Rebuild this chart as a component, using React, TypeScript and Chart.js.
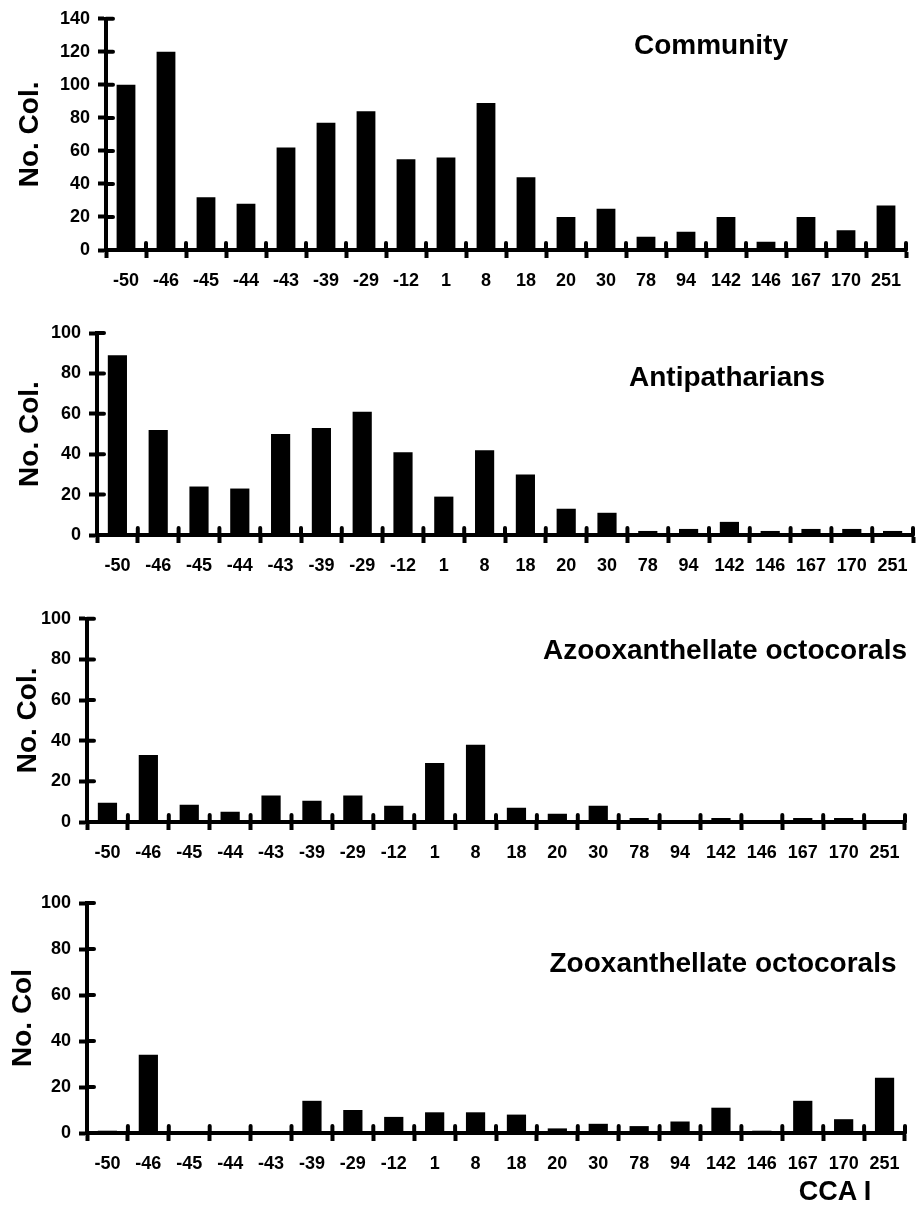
import React, { useEffect, useRef } from 'react';
import { Chart, registerables } from 'chart.js';
Chart.register(...registerables);

const categories = ['-50', '-46', '-45', '-44', '-43', '-39', '-29', '-12', '1', '8', '18', '20', '30', '78', '94', '142', '146', '167', '170', '251'];
const community = [100, 120, 32, 28, 62, 77, 84, 55, 56, 89, 44, 20, 25, 8, 11, 20, 5, 20, 12, 27];
const antipatharians = [89, 52, 24, 23, 50, 53, 61, 41, 19, 42, 30, 13, 11, 2, 3, 6.5, 2, 3, 3, 2];
const azooxanthellate = [9.5, 33, 8.5, 5, 13, 10.5, 13, 8, 29, 38, 7, 4, 8, 2, 0.5, 2, 0, 2, 2, 0.5];
const zooxanthellate = [1, 34, 0, 0, 0, 14, 10, 7, 9, 9, 8, 2, 4, 3, 5, 11, 1, 14, 6, 24];
const yTicks140 = [0, 20, 40, 60, 80, 100, 120, 140];
const yTicks100 = [0, 20, 40, 60, 80, 100];

const FONT = '"Liberation Sans", Arial, Helvetica, sans-serif';

type Panel = {
  title: string;
  data: number[];
  yTicks: number[];
  yTitle: string;
  canvasTop: number;
  canvasHeight: number;
  left: number;
  right: number;
  areaTop: number;
  areaBottom: number;
  yTitlePad: number;
  titleX: number;
  titleY: number;
};

const panels: Panel[] = [
  { title: 'Community', data: community, yTicks: yTicks140, yTitle: 'No. Col.', canvasTop: 0, canvasHeight: 300, left: 106, right: 906, areaTop: 16, areaBottom: 250, yTitlePad: 16, titleX: 711, titleY: 45 },
  { title: 'Antipatharians', data: antipatharians, yTicks: yTicks100, yTitle: 'No. Col.', canvasTop: 300, canvasHeight: 300, left: 97, right: 913, areaTop: 333, areaBottom: 535, yTitlePad: 16, titleX: 727, titleY: 377 },
  { title: 'Azooxanthellate octocorals', data: azooxanthellate, yTicks: yTicks100, yTitle: 'No. Col.', canvasTop: 600, canvasHeight: 280, left: 87, right: 905, areaTop: 613, areaBottom: 822, yTitlePad: 14, titleX: 725, titleY: 650 },
  { title: 'Zooxanthellate octocorals', data: zooxanthellate, yTicks: yTicks100, yTitle: 'No. Col', canvasTop: 880, canvasHeight: 300, left: 87, right: 905, areaTop: 903, areaBottom: 1133, yTitlePad: 9, titleX: 723, titleY: 963 },
];

const crossTicks = {
  id: 'crossTicks',
  afterDatasetsDraw(chart: any) {
    const { ctx, chartArea, scales } = chart;
    ctx.save();
    ctx.strokeStyle = '#000';
    ctx.lineWidth = 4;
    ctx.lineCap = 'round';
    const y = scales.y;
    y.ticks.forEach((_t: any, i: number) => {
      const py = y.getPixelForTick(i);
      ctx.beginPath();
      ctx.moveTo(chartArea.left, py);
      ctx.lineTo(chartArea.left + 7, py);
      ctx.stroke();
    });
    const x = scales.x;
    for (let i = 0; i <= x.ticks.length; i++) {
      const px = x.getPixelForValue(i - 0.5);
      ctx.beginPath();
      ctx.moveTo(px, chartArea.bottom);
      ctx.lineTo(px, chartArea.bottom - 7);
      ctx.stroke();
    }
    ctx.restore();
  },
};

function PanelChart({ p }: { p: Panel }) {
  const ref = useRef<HTMLCanvasElement>(null);
  useEffect(() => {
    if (!ref.current) return;
    const xHeight = p.canvasTop + p.canvasHeight - p.areaBottom;
    const chart = new Chart(ref.current, {
      type: 'bar',
      data: {
        labels: categories,
        datasets: [{ data: p.data, backgroundColor: '#000', borderWidth: 0, barPercentage: 0.47, categoryPercentage: 1 }],
      },
      plugins: [crossTicks],
      options: {
        animation: false,
        responsive: false,
        maintainAspectRatio: false,
        layout: { padding: { top: p.areaTop - p.canvasTop, right: 924 - p.right, bottom: 0, left: 0 } },
        plugins: { legend: { display: false }, tooltip: { enabled: false }, title: { display: false } },
        scales: {
          x: {
            type: 'category',
            offset: true,
            grid: { display: true, drawOnChartArea: false, drawTicks: true, tickLength: 8, tickWidth: 4, color: '#000', offset: true },
            border: { display: true, width: 4, color: '#000' },
            ticks: { color: '#000', font: { family: FONT, size: 18, weight: 'bold' }, padding: 12, maxRotation: 0, autoSkip: false },
            afterFit: (s: any) => { s.height = xHeight; },
          },
          y: {
            min: 0,
            max: p.yTicks[p.yTicks.length - 1],
            afterBuildTicks: (s: any) => { s.ticks = p.yTicks.map((v) => ({ value: v })); },
            grid: { display: true, drawOnChartArea: false, drawTicks: true, tickLength: 8, tickWidth: 4, color: '#000' },
            border: { display: true, width: 4, color: '#000' },
            ticks: { color: '#000', font: { family: FONT, size: 18, weight: 'bold' }, padding: 8 },
            title: { display: true, text: p.yTitle, color: '#000', font: { family: FONT, size: 28, weight: 'bold', lineHeight: 1 }, padding: { top: p.yTitlePad, bottom: 0 } },
            afterFit: (s: any) => { s.width = p.left; },
          },
        },
      } as any,
    });
    return () => chart.destroy();
  }, [p]);
  return (
    <canvas
      ref={ref}
      width={924}
      height={p.canvasHeight}
      style={{ position: 'absolute', left: 0, top: p.canvasTop, width: 924, height: p.canvasHeight }}
    />
  );
}

const titleStyle = (x: number, y: number, size: number): React.CSSProperties => ({
  position: 'absolute',
  left: x,
  top: y,
  transform: 'translate(-50%, -50%)',
  font: `bold ${size}px ${FONT}`,
  color: '#000',
  whiteSpace: 'nowrap',
  lineHeight: 1,
});

export default function App() {
  return (
    <div style={{ position: 'absolute', left: 0, top: 0, width: 924, height: 1207, background: '#fff', overflow: 'hidden' }}>
      {panels.map((p, i) => (
        <PanelChart key={i} p={p} />
      ))}
      {panels.map((p, i) => (
        <div key={'t' + i} style={titleStyle(p.titleX, p.titleY, 28)}>{p.title}</div>
      ))}
      <div style={titleStyle(835, 1191, 27)}>CCA I</div>
    </div>
  );
}
